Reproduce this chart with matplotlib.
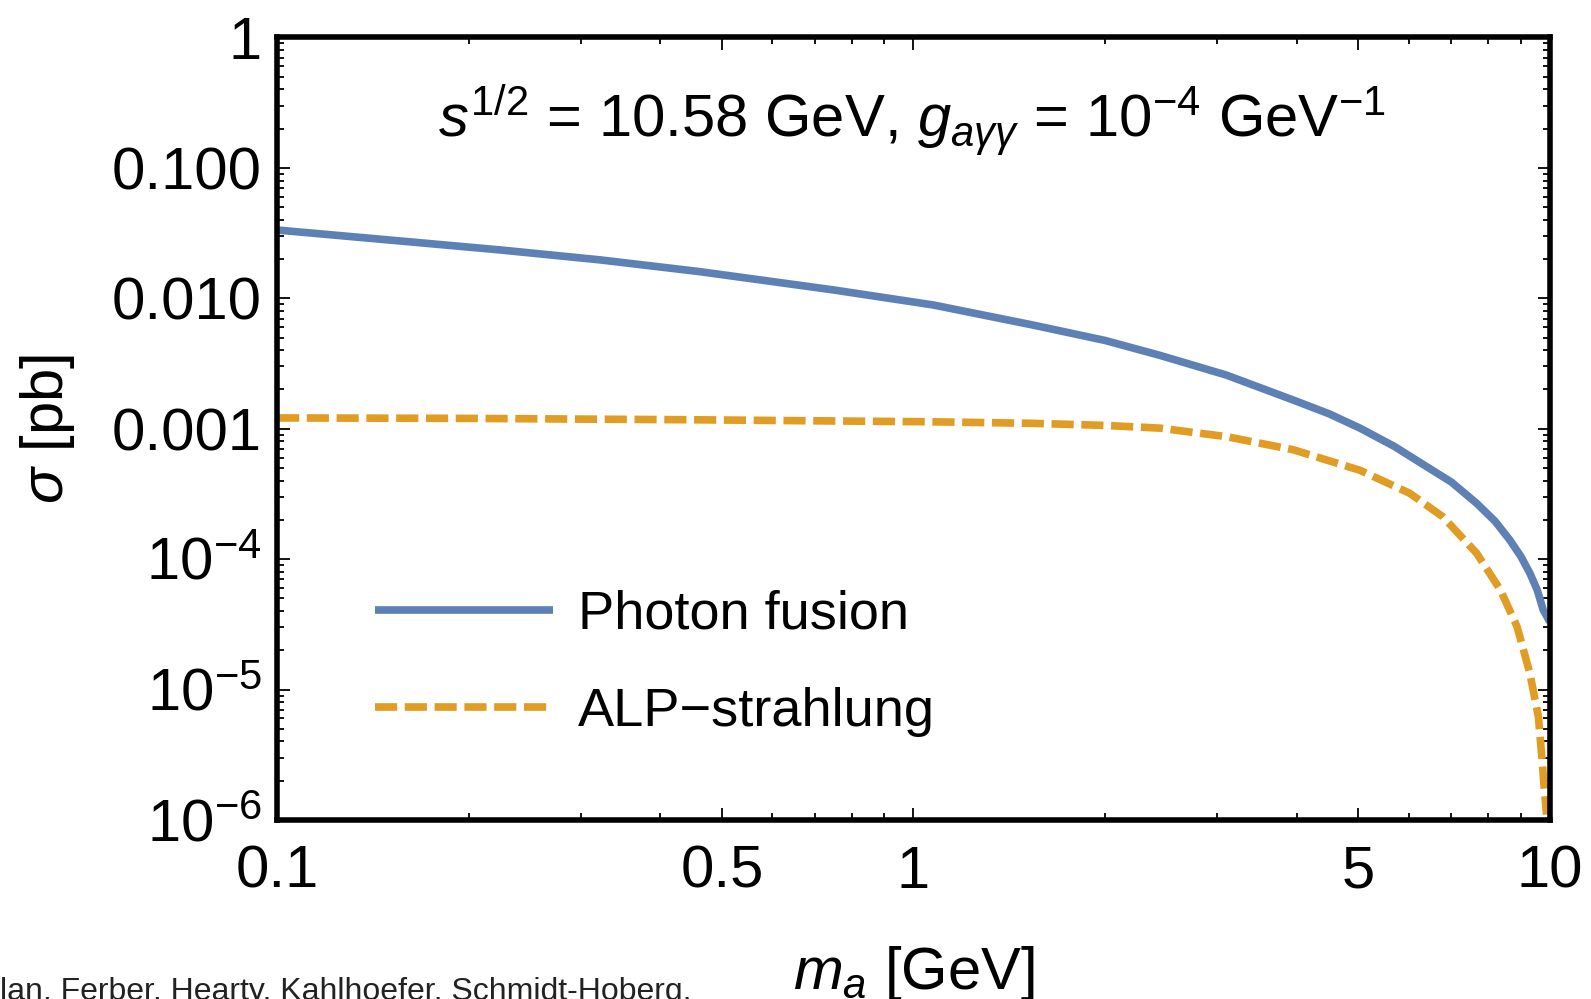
import matplotlib
matplotlib.use("Agg")
import matplotlib.pyplot as plt
from matplotlib.ticker import FixedLocator, FixedFormatter, LogLocator, NullFormatter

plt.rcParams["font.family"] = ["Liberation Sans", "DejaVu Sans"]
plt.rcParams["mathtext.fontset"] = "custom"
plt.rcParams["mathtext.rm"] = "Liberation Sans"
plt.rcParams["mathtext.it"] = "Liberation Sans:italic"
plt.rcParams["mathtext.bf"] = "Liberation Sans:bold"

# ALP mass [GeV] and cross sections [pb]
mass_fusion = [0.1, 0.15, 0.224, 0.322, 0.462, 0.748, 1.074, 1.54, 2.0, 2.44,
               3.10, 3.95, 4.5, 5.03, 5.7, 6.40, 7.0, 7.67, 8.2, 8.65, 9.0,
               9.30, 9.55, 9.76, 10.0]
sigma_fusion = [0.0334, 0.0280, 0.0235, 0.0197, 0.0160, 0.0116, 0.00889,
                0.00624, 0.00475, 0.00365, 0.00258, 0.00166, 0.00130, 0.00101,
                0.00073, 0.000512, 0.00039, 0.000268, 0.000195, 0.000140,
                0.000105, 7.8e-5, 5.8e-5, 4.07e-5, 3.3e-5]

mass_strahlung = [0.1, 0.2, 0.462, 1.07, 1.54, 2.0, 2.44, 3.10, 3.95, 5.03,
                  6.02, 6.79, 7.67, 8.36, 8.88, 9.30, 9.59, 9.71, 9.80, 9.88]
sigma_strahlung = [0.00121, 0.00120, 0.00117, 0.00113, 0.00110, 0.00106,
                   0.00101, 0.00087, 0.00069, 0.00048, 0.00032, 0.000211,
                   0.000111, 5.8e-5, 3.03e-5, 1.33e-5, 6.2e-6, 3.05e-6,
                   1.7e-6, 1.1e-6]

series_labels = ["Photon fusion", "ALP\u2212strahlung"]

x_ticks = [0.1, 0.5, 1, 5, 10]
x_ticklabels = ["0.1", "0.5", "1", "5", "10"]
y_ticks = [1e-6, 1e-5, 1e-4, 1e-3, 1e-2, 1e-1, 1]
y_ticklabels = [r"$10^{-6}$", r"$10^{-5}$", r"$10^{-4}$", "0.001", "0.010", "0.100", "1"]

blue = "#5E81B5"
orange = "#E19C24"
fs = 43

fig = plt.figure(figsize=(15.91, 9.99), dpi=100)
ax = fig.add_axes([0.1741, 0.1792, 0.8001, 0.7833])

ax.plot(mass_fusion, sigma_fusion, color=blue, lw=5.5, solid_capstyle="butt",
        solid_joinstyle="round", label=series_labels[0])
ax.plot(mass_strahlung, sigma_strahlung, color=orange, lw=5.5, dashes=(2.9, 1.0),
        label=series_labels[1])

ax.set_xscale("log")
ax.set_yscale("log")
ax.set_xlim(0.1, 10)
ax.set_ylim(1e-6, 1)

ax.xaxis.set_major_locator(FixedLocator(x_ticks))
ax.xaxis.set_major_formatter(FixedFormatter(x_ticklabels))
ax.xaxis.set_minor_locator(LogLocator(base=10, subs=[2, 3, 4, 6, 7, 8, 9]))
ax.xaxis.set_minor_formatter(NullFormatter())
ax.yaxis.set_major_locator(FixedLocator(y_ticks))
ax.yaxis.set_major_formatter(FixedFormatter(y_ticklabels))
ax.yaxis.set_minor_locator(LogLocator(base=10, subs=range(2, 10), numticks=20))
ax.yaxis.set_minor_formatter(NullFormatter())

ax.tick_params(which="both", direction="in", top=True, right=True, width=1.3,
               colors="black", labelsize=fs)
ax.tick_params(which="major", length=9)
ax.tick_params(which="minor", length=5)
ax.tick_params(axis="x", which="major", pad=18)
ax.tick_params(axis="y", which="major", pad=11)

for sp in ax.spines.values():
    sp.set_linewidth(4.0)
    sp.set_color("black")

ax.set_ylabel(r"$\sigma$ [pb]", fontsize=fs)
ax.yaxis.set_label_coords(-0.157, 0.5)
ax.set_xlabel(r"$m_a$ [GeV]", fontsize=fs, va="top")
ax.xaxis.set_label_coords(0.5, -0.158)

ax.text(0.499, 0.893,
        r"$s^{1/2}$ = 10.58 GeV, $g_{a\gamma\gamma}$ = 10$^{-4}$ GeV$^{-1}$",
        transform=ax.transAxes, ha="center", va="center", fontsize=fs)

ax.legend(loc="center left", bbox_to_anchor=(0.077, 0.200), frameon=False,
          fontsize=39, handlelength=3.28, handletextpad=0.46, labelspacing=0.87,
          borderpad=0, borderaxespad=0)

fig.text(-0.0257, -0.001, "Dolan, Ferber, Hearty, Kahlhoefer, Schmidt-Hoberg,",
         fontsize=23, color="#222222", ha="left", va="baseline")

fig.savefig("out.png", dpi=100)
